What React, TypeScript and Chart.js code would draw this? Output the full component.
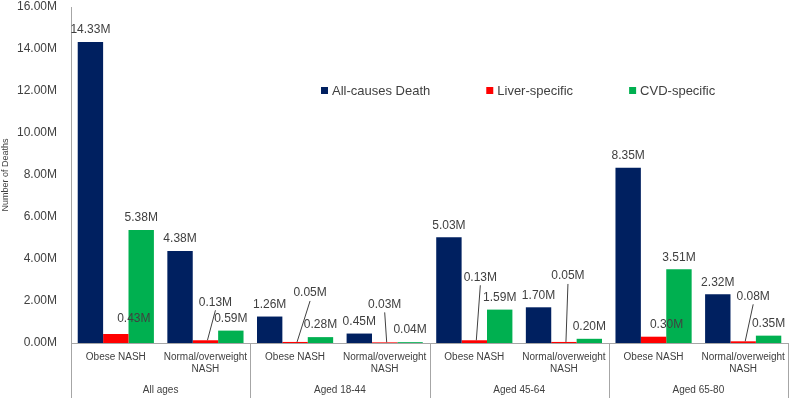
import React, { useEffect, useRef } from 'react';
import { Chart, registerables } from 'chart.js';

Chart.register(...registerables);

const categories: string[][] = [
  ['Obese NASH'], ['Normal/overweight', 'NASH'],
  ['Obese NASH'], ['Normal/overweight', 'NASH'],
  ['Obese NASH'], ['Normal/overweight', 'NASH'],
  ['Obese NASH'], ['Normal/overweight', 'NASH'],
];
const ageGroups = ['All ages', 'Aged 18-44', 'Aged 45-64', 'Aged 65-80'];
const seriesNames = ['All-causes Death', 'Liver-specific', 'CVD-specific'];
const allCauses = [14.33, 4.38, 1.26, 0.45, 5.03, 1.70, 8.35, 2.32];
const liver = [0.43, 0.13, 0.05, 0.03, 0.13, 0.05, 0.30, 0.08];
const cvd = [5.38, 0.59, 0.28, 0.04, 1.59, 0.20, 3.51, 0.35];
const yMax = 16;
const yStep = 2;

// label placement for the small liver bars (pixel offsets from bar top), styling only
const liverLabelOffsets: number[][] = [
  [18, -15], [10, -38], [15, -49], [0, -38], [6, -63], [4, -66], [13, -12], [10, -45],
];

const colors = ['#002060', '#FF0000', '#00B050'];
const FONT = "'Liberation Sans', Arial, sans-serif";
const TEXT = '#404040';
const AXIS = '#a6a6a6';

const fmt = (v: number) => v.toFixed(2) + 'M';

const labelsPlugin = {
  id: 'customLabels',
  afterDatasetsDraw(chart: any) {
    const ctx = chart.ctx;
    ctx.save();
    ctx.font = `12px ${FONT}`;
    ctx.fillStyle = TEXT;
    ctx.strokeStyle = TEXT;
    ctx.lineWidth = 1;
    ctx.textAlign = 'center';
    ctx.textBaseline = 'middle';
    chart.data.datasets.forEach((ds: any, di: number) => {
      const meta = chart.getDatasetMeta(di);
      meta.data.forEach((el: any, i: number) => {
        const v = ds.data[i];
        if (di === 1) {
          const [dx, dy] = liverLabelOffsets[i];
          const lx = el.x + dx;
          const ly = el.y + dy;
          ctx.fillText(fmt(v), lx, ly);
          if (dy < -20) {
            ctx.beginPath();
            ctx.moveTo(lx, ly + 8);
            ctx.lineTo(el.x + 2, el.y);
            ctx.stroke();
          }
        } else {
          ctx.fillText(fmt(v), el.x, el.y - 12);
        }
      });
    });
    ctx.restore();
  },
  afterDraw(chart: any) {
    const ctx = chart.ctx;
    const xs = chart.scales.x;
    const area = chart.chartArea;
    ctx.save();
    ctx.strokeStyle = AXIS;
    ctx.lineWidth = 1;
    const bounds: number[] = [area.left];
    for (let g = 1; g < ageGroups.length; g++) {
      bounds.push((xs.getPixelForValue(2 * g - 1) + xs.getPixelForValue(2 * g)) / 2);
    }
    bounds.push(area.right);
    bounds.forEach((b) => {
      const x = Math.round(b) + 0.5;
      ctx.beginPath();
      ctx.moveTo(x, area.bottom);
      ctx.lineTo(x, area.bottom + 55);
      ctx.stroke();
    });
    ctx.font = `10px ${FONT}`;
    ctx.fillStyle = TEXT;
    ctx.textAlign = 'center';
    ctx.textBaseline = 'middle';
    ageGroups.forEach((g, i) => {
      ctx.fillText(g, (bounds[i] + bounds[i + 1]) / 2, area.bottom + 47);
    });
    ctx.font = `13px ${FONT}`;
    ctx.textAlign = 'left';
    let lx = area.left + 250;
    const ly = 91;
    seriesNames.forEach((n, i) => {
      ctx.fillStyle = colors[i];
      ctx.fillRect(lx, ly - 4, 7, 7);
      ctx.fillStyle = TEXT;
      ctx.fillText(n, lx + 11, ly);
      lx += 11 + ctx.measureText(n).width + 56;
    });
    ctx.restore();
  },
};

export default function App() {
  const ref = useRef<HTMLCanvasElement>(null);
  useEffect(() => {
    if (!ref.current) return;
    const chart = new Chart(ref.current, {
      type: 'bar',
      data: {
        labels: categories,
        datasets: [
          { label: seriesNames[0], data: allCauses, backgroundColor: colors[0] },
          { label: seriesNames[1], data: liver, backgroundColor: colors[1] },
          { label: seriesNames[2], data: cvd, backgroundColor: colors[2] },
        ],
      },
      options: {
        responsive: false,
        animation: false,
        layout: { padding: { top: 7, right: 1, left: 0, bottom: 0 } },
        datasets: { bar: { categoryPercentage: 0.85, barPercentage: 1 } },
        plugins: { legend: { display: false }, tooltip: { enabled: false } },
        scales: {
          x: {
            grid: { display: false, drawTicks: false },
            border: { display: true, color: AXIS },
            ticks: {
              color: TEXT,
              font: { family: FONT, size: 10 },
              padding: 8,
              maxRotation: 0,
              autoSkip: false,
            },
            afterFit: (s: any) => {
              s.height = 58;
              s.paddingLeft = 0;
              s.paddingRight = 0;
            },
          },
          y: {
            min: 0,
            max: yMax,
            grid: { display: false, drawTicks: false },
            border: { display: true, color: AXIS },
            ticks: {
              stepSize: yStep,
              color: TEXT,
              font: { family: FONT, size: 12 },
              padding: 14,
              callback: (v: any) => fmt(Number(v)),
            },
            title: {
              display: true,
              text: 'Number of Deaths',
              color: TEXT,
              font: { family: FONT, size: 9 },
              padding: 0,
            },
            afterFit: (s: any) => {
              s.width = 71;
              s.paddingTop = 0;
              s.paddingBottom = 0;
            },
          },
        },
      },
      plugins: [labelsPlugin],
    } as any);
    return () => chart.destroy();
  }, []);
  return (
    <div style={{ position: 'fixed', left: 0, top: 0, width: 789, height: 401, background: '#fff' }}>
      <canvas ref={ref} width={789} height={401} />
    </div>
  );
}
